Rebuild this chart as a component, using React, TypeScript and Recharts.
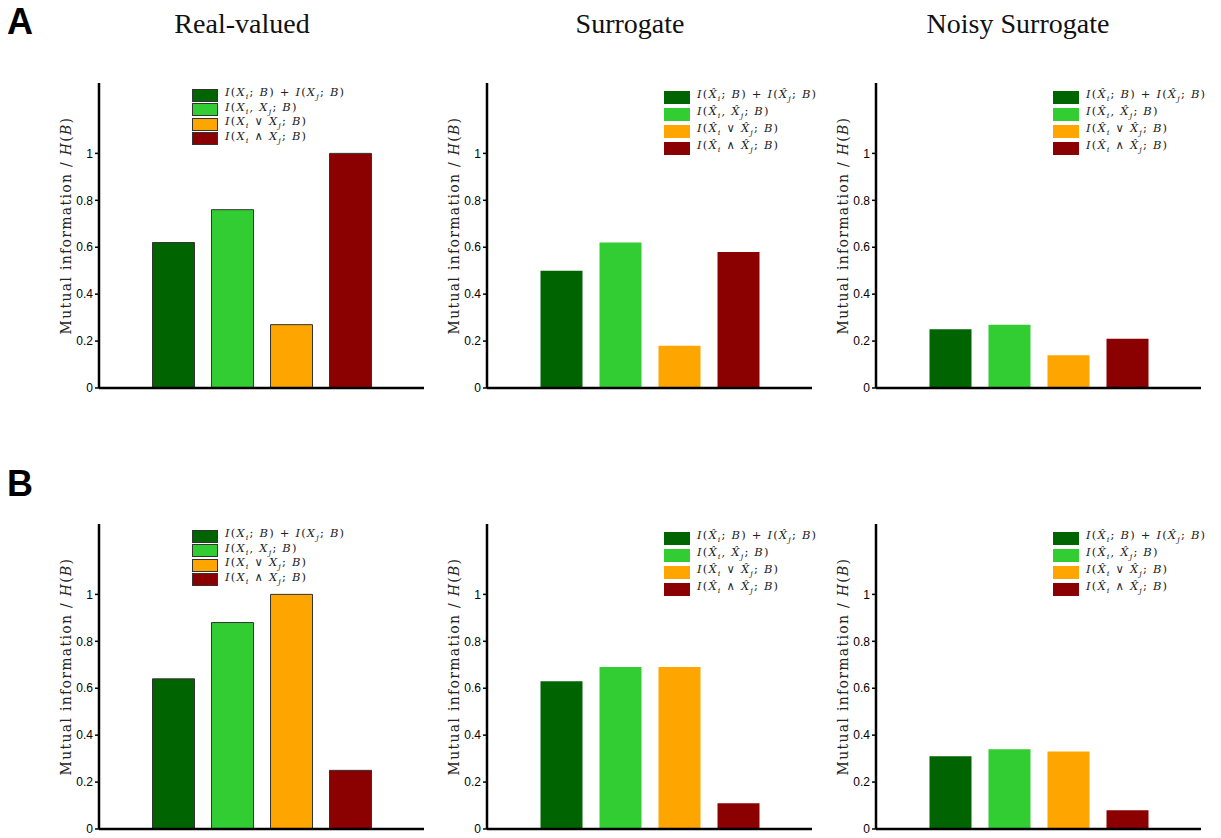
import { BarChart, Bar, Cell, XAxis, YAxis } from 'recharts';

const CATEGORIES = ['sum', 'joint', 'or', 'and'];
const COLORS = ['#006400', '#32CD32', '#FFA500', '#8B0000'];
const TITLES = ['Real-valued', 'Surrogate', 'Noisy Surrogate'];
const Y_TICKS = [0, 0.2, 0.4, 0.6, 0.8, 1];

// row A
const REAL_A = [0.62, 0.76, 0.27, 1.0];
const SURR_A = [0.5, 0.62, 0.18, 0.58];
const NOISY_A = [0.25, 0.27, 0.14, 0.21];
// row B
const REAL_B = [0.64, 0.88, 1.0, 0.25];
const SURR_B = [0.63, 0.69, 0.69, 0.11];
const NOISY_B = [0.31, 0.34, 0.33, 0.08];

const AXIS_X = [99, 487, 876];
const AXIS_TOP = [83, 524];
const PLOT_W = 325;
const PLOT_H = 305;
const Y_AXIS_W = 60;

const serif = '"DejaVu Serif", serif';

function Var({ hat, sub }: { hat: boolean; sub: string }) {
  return (
    <span>
      <i>{hat ? 'X\u0302' : 'X'}</i>
      <sub style={{ fontSize: 8, fontStyle: 'italic' }}>{sub}</sub>
    </span>
  );
}

function MathLabel({ kind, hat }: { kind: number; hat: boolean }) {
  if (kind === 0) {
    return (
      <span>
        <i>I</i>(<Var hat={hat} sub="i" />; <i>B</i>) + <i>I</i>(<Var hat={hat} sub="j" />; <i>B</i>)
      </span>
    );
  }
  const op = kind === 1 ? ', ' : kind === 2 ? ' \u2228 ' : ' \u2227 ';
  return (
    <span>
      <i>I</i>(<Var hat={hat} sub="i" />{op}<Var hat={hat} sub="j" />; <i>B</i>)
    </span>
  );
}

function YTitle(props: any) {
  const { viewBox } = props;
  const cx = viewBox.x + viewBox.width - 33;
  const cy = viewBox.y + viewBox.height / 2 - 10;
  return (
    <text
      x={cx}
      y={cy}
      transform={`rotate(-90, ${cx}, ${cy})`}
      textAnchor="middle"
      dominantBaseline="central"
      fontFamily={serif}
      fontSize={14}
      letterSpacing={1.3}
      fill="#222"
    >
      Mutual information / <tspan fontStyle="italic">H</tspan>(<tspan fontStyle="italic">B</tspan>)
    </text>
  );
}

function Panel({ values, col, row }: { values: number[]; col: number; row: number }) {
  const data = CATEGORIES.map((c, i) => ({ name: c, value: values[i] }));
  const left = AXIS_X[col] - Y_AXIS_W;
  const top = AXIS_TOP[row] - 10;
  const outlined = col === 0;
  const legendLeft = col === 0 ? 93 : 177;
  const rowH = outlined ? 14.5 : 17;
  return (
    <div style={{ position: 'absolute', left, top }}>
      <BarChart
        width={Y_AXIS_W + PLOT_W + 10}
        height={10 + PLOT_H + 20}
        data={data}
        margin={{ top: 10, right: 10, left: 0, bottom: 0 }}
      >
        <XAxis
          dataKey="name"
          tick={false}
          tickLine={false}
          height={20}
          padding={{ left: 44.5, right: 44.5 }}
          axisLine={{ stroke: '#000', strokeWidth: 2.5 }}
        />
        <YAxis
          width={Y_AXIS_W}
          domain={[0, 1.3]}
          ticks={Y_TICKS}
          tickSize={4}
          tickMargin={2}
          tickLine={{ stroke: '#000', strokeWidth: 1.5 }}
          axisLine={{ stroke: '#000', strokeWidth: 2.5 }}
          tick={{ fill: '#000', fontSize: 12, fontFamily: '"Liberation Sans", Arial, sans-serif' }}
          tickFormatter={(v: number) => String(v)}
          label={<YTitle />}
        />
        <Bar dataKey="value" barSize={42} isAnimationActive={false}>
          {data.map((_, i) => (
            <Cell
              key={i}
              fill={COLORS[i]}
              stroke={outlined ? '#333' : 'none'}
              strokeWidth={outlined ? 1 : 0}
            />
          ))}
        </Bar>
      </BarChart>
      <div
        style={{
          position: 'absolute',
          left: Y_AXIS_W + legendLeft,
          top: outlined ? 14.75 : 15.5,
          fontFamily: serif,
          fontSize: 11.5,
          letterSpacing: 1.2,
          color: '#222',
          lineHeight: `${rowH}px`,
          whiteSpace: 'nowrap',
        }}
      >
        {CATEGORIES.map((c, i) => (
          <div key={c} style={{ display: 'flex', alignItems: 'center', height: rowH }}>
            <span
              style={{
                display: 'inline-block',
                width: outlined ? 24 : 26,
                height: outlined ? 11 : 13,
                background: COLORS[i],
                border: outlined ? '1px solid #333' : 'none',
                marginRight: 7,
              }}
            />
            <MathLabel kind={i} hat={col > 0} />
          </div>
        ))}
      </div>
    </div>
  );
}

export default function App() {
  const rows = [
    [REAL_A, SURR_A, NOISY_A],
    [REAL_B, SURR_B, NOISY_B],
  ];
  const titleX = [242, 630, 1018];
  return (
    <div style={{ position: 'absolute', left: 0, top: 0, width: 1221, height: 838, background: '#fff' }}>
      {TITLES.map((t, i) => (
        <div
          key={t}
          style={{
            position: 'absolute',
            left: titleX[i] - 150,
            width: 300,
            top: 8,
            textAlign: 'center',
            fontFamily: '"Liberation Serif", serif',
            fontSize: 28,
            color: '#111',
          }}
        >
          {t}
        </div>
      ))}
      {['A', 'B'].map((l, i) => (
        <div
          key={l}
          style={{
            position: 'absolute',
            left: 7,
            top: i === 0 ? 1 : 463,
            fontFamily: '"Liberation Sans", Arial, sans-serif',
            fontWeight: 'bold',
            fontSize: 36,
            color: '#000',
          }}
        >
          {l}
        </div>
      ))}
      {rows.map((r, ri) => r.map((vals, ci) => <Panel key={`${ri}-${ci}`} values={vals} col={ci} row={ri} />))}
    </div>
  );
}
